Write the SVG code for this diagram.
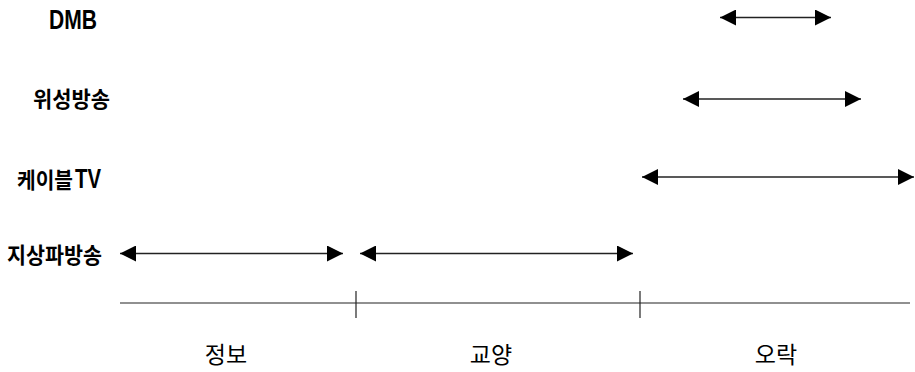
<svg xmlns="http://www.w3.org/2000/svg" width="915" height="372" viewBox="0 0 915 372">
<defs>
<marker id="ah" markerUnits="userSpaceOnUse" markerWidth="16" markerHeight="16" viewBox="0 0 16 16" refX="16" refY="8" orient="auto-start-reverse">
<path d="M0,0 L16,8 L0,16 Z" fill="#000"/>
</marker>
</defs>
<style>
.lbl{font-family:"Noto Sans CJK KR","Liberation Sans",sans-serif;font-weight:bold;font-size:22px;fill:#000}
.lat{font-family:"Liberation Sans","Noto Sans CJK KR",sans-serif;font-weight:bold;font-size:27px}
.cat{font-family:"Noto Sans CJK KR",sans-serif;font-weight:normal;font-size:23px;fill:#000;text-anchor:middle}
.arr{stroke:#222;stroke-width:1.3;fill:none;marker-start:url(#ah);marker-end:url(#ah)}
.axis{stroke:#222;stroke-width:1.2;fill:none}
</style>
<rect width="915" height="372" fill="#fff"/>
<g id="label-dmb"><text class="lbl lat" x="49" y="29" textLength="48" lengthAdjust="spacingAndGlyphs">DMB</text></g>
<g id="label-satellite"><text class="lbl" x="33" y="107" textLength="77" lengthAdjust="spacingAndGlyphs">위성방송</text></g>
<g id="label-cable"><text class="lbl" x="17" y="188" textLength="56" lengthAdjust="spacingAndGlyphs">케이블</text><text class="lbl lat" x="75" y="188" textLength="26" lengthAdjust="spacingAndGlyphs">TV</text></g>
<g id="label-terrestrial"><text class="lbl" x="7" y="263" textLength="95" lengthAdjust="spacingAndGlyphs">지상파방송</text></g>
<g id="connectors">
<line class="arr" x1="720" y1="17.5" x2="831" y2="17.5"/>
<line class="arr" x1="683" y1="99" x2="861" y2="99"/>
<line class="arr" x1="642" y1="177" x2="914" y2="177"/>
<line class="arr" x1="120" y1="253.5" x2="343" y2="253.5"/>
<line class="arr" x1="360" y1="253.5" x2="633" y2="253.5"/>
</g>
<g id="axis">
<line class="axis" x1="120" y1="303" x2="910" y2="303"/>
<line class="axis" x1="356" y1="291" x2="356" y2="318"/>
<line class="axis" x1="640" y1="291" x2="640" y2="318"/>
</g>
<g id="cat-info"><text class="cat" x="226" y="363">정보</text></g>
<g id="cat-culture"><text class="cat" x="491" y="363">교양</text></g>
<g id="cat-entertain"><text class="cat" x="776" y="363">오락</text></g>
</svg>
